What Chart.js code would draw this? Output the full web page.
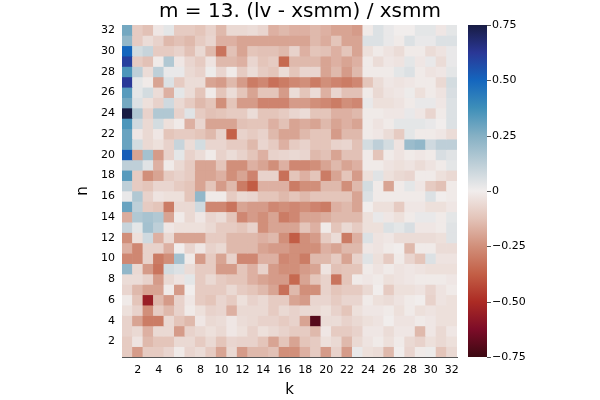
<!DOCTYPE html>
<html>
<head>
<meta charset="utf-8">
<script src="https://cdn.jsdelivr.net/npm/chart.js@4.4.0/dist/chart.umd.min.js"></script>
<style>
  html, body { margin: 0; padding: 0; background: #fff; }
</style>
</head>
<body>
<canvas id="heat" width="600" height="400"></canvas>
<script>
// k categories (columns)
const kLabels = ['1','2','3','4','5','6','7','8','9','10','11','12','13','14','15','16',
                 '17','18','19','20','21','22','23','24','25','26','27','28','29','30','31','32'];
// n values (rows) from top to bottom
const nRows = [32,31,30,29,28,27,26,25,24,23,22,21,20,19,18,17,16,15,14,13,12,11,10,9,8,7,6,5,4,3,2,1];
const nTicks = [2,4,6,8,10,12,14,16,18,20,22,24,26,28,30,32];
const cbTicks = [-0.75,-0.5,-0.25,0,0.25,0.5,0.75];

// (lv - xsmm) / xsmm, one line per n (top row n = 32 first), k = 1..32
const ratio = [
  [0.28,-0.10,-0.13,-0.02,0.03,-0.10,-0.10,-0.12,-0.08,-0.15,-0.06,-0.06,-0.05,-0.07,-0.17,-0.15,-0.17,-0.17,-0.15,-0.17,-0.20,-0.20,-0.22,-0.01,0.05,0.02,0.00,0.00,0.03,0.03,-0.02,0.03],
  [0.22,-0.10,-0.05,-0.08,-0.15,-0.13,-0.15,-0.10,-0.07,-0.17,-0.17,-0.20,-0.20,-0.20,-0.20,-0.20,-0.20,-0.20,-0.15,-0.18,-0.12,-0.20,-0.20,0.05,0.05,0.02,-0.01,0.05,0.02,0.02,0.05,0.05],
  [0.50,0.07,0.10,-0.10,-0.10,-0.08,-0.13,-0.06,-0.15,-0.32,-0.13,-0.20,-0.12,-0.13,-0.13,-0.15,-0.08,-0.17,-0.12,-0.13,-0.17,-0.12,-0.20,-0.04,-0.01,-0.03,-0.05,-0.01,-0.01,-0.05,-0.03,0.02],
  [0.60,-0.10,-0.13,-0.01,0.15,-0.02,-0.07,-0.10,-0.03,-0.15,-0.15,-0.17,-0.07,-0.12,-0.10,-0.35,-0.15,-0.15,-0.15,-0.20,-0.17,-0.20,-0.17,-0.01,-0.05,-0.02,-0.03,0.03,-0.02,0.02,-0.05,0.02],
  [0.35,0.12,-0.05,0.12,0.02,0.02,-0.06,-0.08,0.01,-0.07,-0.01,-0.10,-0.05,-0.10,-0.12,-0.05,-0.12,-0.07,-0.07,-0.20,-0.15,-0.22,-0.15,-0.01,-0.01,-0.01,0.03,0.05,-0.01,-0.03,-0.02,0.03],
  [0.62,0.03,-0.01,-0.20,0.05,-0.10,-0.05,-0.05,-0.20,-0.22,-0.15,-0.22,-0.30,-0.27,-0.33,-0.30,-0.27,-0.25,-0.30,-0.25,-0.28,-0.30,-0.27,-0.12,-0.05,-0.02,-0.03,-0.02,-0.01,-0.01,-0.06,0.07],
  [0.33,0.03,0.07,-0.05,-0.17,0.03,-0.05,-0.12,-0.01,-0.12,-0.05,-0.12,-0.20,-0.12,-0.12,-0.22,-0.05,-0.12,-0.05,-0.17,-0.07,-0.13,-0.13,-0.01,-0.06,-0.03,-0.02,0.01,-0.04,-0.01,-0.03,0.06],
  [0.28,0.05,-0.04,-0.08,0.08,-0.06,-0.10,-0.15,-0.12,-0.25,-0.12,-0.22,-0.22,-0.28,-0.28,-0.28,-0.22,-0.22,-0.25,-0.27,-0.30,-0.25,-0.27,0.02,-0.04,-0.04,-0.03,-0.01,0.02,0.02,-0.02,0.05],
  [0.75,0.15,-0.08,0.15,0.15,-0.08,0.04,-0.10,-0.13,-0.12,-0.10,-0.10,-0.05,-0.12,-0.12,-0.10,-0.07,-0.05,-0.12,-0.12,-0.17,-0.17,-0.15,-0.01,-0.01,-0.02,-0.02,0.02,-0.02,-0.07,-0.01,0.05],
  [0.35,0.08,-0.06,0.07,-0.04,-0.01,-0.17,-0.07,-0.20,-0.20,-0.20,-0.13,-0.12,-0.12,-0.17,-0.13,-0.20,-0.18,-0.20,-0.15,-0.20,-0.17,-0.20,-0.01,-0.03,-0.01,0.03,0.03,0.03,0.02,0.00,0.05],
  [0.30,-0.02,-0.06,-0.02,-0.12,-0.10,-0.10,-0.12,-0.15,-0.08,-0.37,-0.08,-0.10,-0.08,-0.15,-0.20,-0.20,-0.15,-0.12,-0.12,-0.22,-0.15,-0.15,-0.01,-0.02,-0.05,-0.10,0.03,-0.01,-0.01,-0.02,-0.05],
  [0.30,0.07,-0.06,-0.04,-0.08,0.10,-0.05,0.07,-0.07,-0.07,-0.10,-0.10,-0.15,-0.07,-0.10,-0.17,-0.10,-0.08,-0.12,-0.12,-0.08,-0.07,-0.13,0.07,0.12,0.07,-0.03,0.20,0.22,0.08,0.12,0.12],
  [0.52,-0.20,0.18,-0.22,-0.08,0.03,-0.08,-0.05,-0.01,-0.08,-0.05,-0.08,-0.12,-0.17,-0.08,-0.07,-0.06,-0.07,-0.15,-0.13,-0.20,-0.13,-0.13,-0.01,-0.12,-0.01,-0.03,-0.01,-0.02,-0.01,0.06,0.04],
  [0.12,0.12,0.04,-0.17,-0.01,-0.06,-0.10,-0.20,-0.20,-0.12,-0.25,-0.25,-0.17,-0.20,-0.25,-0.17,-0.27,-0.27,-0.25,-0.20,-0.15,-0.20,-0.17,-0.01,-0.01,-0.03,-0.04,-0.03,-0.05,-0.03,-0.01,0.03],
  [0.33,-0.10,-0.25,-0.20,-0.10,-0.08,-0.10,-0.20,-0.20,-0.17,-0.25,-0.20,-0.28,-0.08,-0.08,-0.33,-0.12,-0.17,-0.12,-0.30,-0.20,-0.12,-0.22,-0.04,0.04,-0.04,-0.06,-0.07,-0.01,-0.01,-0.04,-0.06],
  [0.12,-0.10,-0.12,-0.07,-0.07,-0.10,-0.12,-0.20,-0.12,-0.22,-0.15,-0.30,-0.38,-0.17,-0.17,-0.17,-0.30,-0.25,-0.25,-0.15,-0.15,-0.25,-0.15,0.07,-0.01,-0.20,-0.01,0.03,-0.02,-0.10,-0.13,-0.01],
  [0.02,0.15,-0.08,-0.03,-0.04,-0.04,-0.12,0.22,-0.01,-0.01,-0.10,-0.06,-0.07,-0.12,-0.12,-0.15,-0.12,-0.15,-0.12,-0.12,-0.12,-0.12,-0.20,0.05,-0.01,-0.01,-0.01,-0.01,-0.01,0.05,0.00,-0.01],
  [0.30,0.12,-0.10,-0.12,-0.30,-0.06,-0.06,0.08,-0.27,-0.27,-0.32,-0.20,-0.22,-0.22,-0.27,-0.25,-0.27,-0.25,-0.28,-0.30,-0.17,-0.15,-0.20,0.00,-0.04,-0.04,-0.10,-0.02,-0.02,-0.04,-0.04,-0.02],
  [-0.18,0.15,0.17,0.15,-0.20,-0.01,-0.06,-0.02,-0.07,-0.05,-0.12,-0.27,-0.22,-0.25,-0.20,-0.30,-0.27,-0.20,-0.20,-0.18,-0.15,-0.15,-0.15,-0.04,0.02,-0.02,-0.04,-0.01,0.02,0.02,-0.01,0.03],
  [0.10,0.03,0.18,0.12,-0.02,-0.04,-0.04,-0.04,-0.06,-0.10,-0.10,-0.12,-0.08,-0.25,-0.20,-0.20,-0.20,-0.12,-0.17,-0.01,-0.12,-0.06,-0.10,-0.04,-0.04,0.05,0.03,0.06,-0.02,-0.02,-0.01,0.04],
  [-0.25,-0.04,0.08,-0.17,-0.06,-0.20,-0.20,-0.20,-0.10,-0.10,-0.15,-0.15,-0.15,-0.17,-0.15,-0.25,-0.38,-0.25,-0.22,-0.10,-0.05,-0.30,-0.17,0.05,-0.03,-0.02,-0.05,-0.05,-0.05,-0.05,-0.04,0.04],
  [-0.17,-0.27,-0.08,-0.08,-0.17,0.00,-0.07,-0.02,-0.08,-0.06,-0.15,-0.15,-0.15,-0.20,-0.22,-0.22,-0.25,-0.25,-0.25,-0.17,-0.20,-0.15,-0.15,-0.02,-0.03,-0.01,0.00,-0.15,-0.01,-0.01,-0.05,-0.05],
  [-0.27,-0.27,-0.08,-0.30,-0.25,0.18,-0.01,-0.22,-0.10,-0.20,-0.08,-0.27,-0.27,-0.17,-0.17,-0.27,-0.25,-0.30,-0.15,-0.15,-0.10,-0.20,-0.08,0.04,-0.04,-0.10,-0.01,-0.07,-0.12,0.05,-0.03,-0.03],
  [0.22,-0.06,-0.22,-0.32,0.07,0.05,-0.05,-0.10,-0.10,-0.22,-0.22,-0.12,-0.17,-0.08,-0.22,-0.25,-0.25,-0.22,-0.20,-0.03,-0.13,-0.12,-0.12,-0.01,-0.03,-0.01,-0.03,-0.02,-0.03,-0.04,-0.04,-0.04],
  [-0.05,-0.05,-0.08,-0.22,-0.06,-0.03,0.03,-0.10,-0.06,-0.10,-0.12,-0.12,-0.17,-0.20,-0.22,-0.22,-0.35,-0.20,-0.12,-0.08,-0.32,-0.12,-0.01,-0.02,-0.01,-0.04,-0.03,-0.02,-0.01,-0.01,-0.01,-0.02],
  [-0.07,-0.15,-0.20,-0.20,-0.01,-0.22,0.00,-0.10,-0.10,-0.10,-0.06,-0.10,-0.12,-0.15,-0.20,-0.33,-0.15,-0.25,-0.25,-0.08,-0.12,-0.10,-0.10,-0.06,0.00,-0.10,-0.04,-0.04,-0.03,-0.07,-0.03,-0.01],
  [-0.01,-0.12,-0.55,-0.15,-0.22,-0.08,-0.02,-0.10,-0.12,-0.07,-0.10,-0.04,-0.08,-0.06,-0.10,-0.10,-0.20,-0.22,-0.07,-0.07,-0.10,-0.07,-0.07,-0.01,-0.04,-0.05,-0.03,-0.01,0.00,-0.08,-0.03,-0.04],
  [-0.04,-0.08,-0.25,-0.10,-0.15,-0.08,-0.01,-0.04,-0.08,-0.07,-0.17,-0.06,-0.06,-0.06,-0.10,-0.06,-0.08,-0.06,-0.06,-0.04,-0.08,-0.12,-0.04,-0.02,-0.02,-0.01,-0.04,-0.01,-0.04,-0.03,-0.04,-0.04],
  [-0.08,-0.20,-0.30,-0.30,-0.06,-0.12,-0.15,-0.02,-0.06,-0.05,-0.02,-0.05,-0.06,-0.08,-0.08,-0.10,-0.08,-0.20,-0.70,-0.05,-0.05,-0.08,-0.06,-0.04,-0.03,0.00,-0.03,-0.03,-0.01,-0.02,-0.04,-0.04],
  [-0.08,-0.06,-0.17,-0.06,-0.06,-0.22,-0.08,-0.06,-0.04,-0.06,-0.02,-0.04,-0.08,-0.04,-0.06,-0.08,-0.10,-0.10,-0.15,-0.02,-0.10,-0.10,-0.08,-0.02,-0.02,-0.05,-0.02,-0.02,-0.15,-0.02,-0.06,-0.02],
  [-0.10,-0.03,-0.15,-0.12,-0.12,-0.06,-0.06,-0.10,-0.06,-0.12,-0.07,-0.08,-0.08,-0.12,-0.20,-0.12,-0.20,-0.12,-0.10,-0.04,-0.06,-0.15,-0.06,-0.03,-0.01,-0.04,-0.01,-0.06,-0.08,-0.04,-0.06,-0.04],
  [-0.10,-0.22,-0.10,-0.10,-0.07,-0.01,-0.07,-0.05,-0.10,-0.20,-0.06,-0.22,-0.15,-0.15,-0.13,-0.25,-0.25,-0.17,-0.10,-0.22,-0.08,-0.22,0.02,-0.04,-0.05,-0.15,0.00,-0.07,-0.01,0.01,-0.12,-0.06]
];

// diverging "balance" colour map, -0.75 .. 0.75
const balanceStops = [
  [-0.75, [60, 9, 18]],
  [-0.625, [125, 12, 40]],
  [-0.5, [172, 43, 36]],
  [-0.375, [195, 95, 70]],
  [-0.25, [209, 143, 122]],
  [-0.125, [227, 195, 184]],
  [0, [241, 237, 236]],
  [0.125, [188, 206, 215]],
  [0.25, [133, 176, 196]],
  [0.375, [62, 143, 185]],
  [0.5, [20, 102, 190]],
  [0.625, [42, 55, 150]],
  [0.75, [24, 28, 67]]
];

function balance(v) {
  v = Math.max(-0.75, Math.min(0.75, v));
  for (let i = 1; i < balanceStops.length; i++) {
    const [v1, c1] = balanceStops[i];
    if (v <= v1) {
      const [v0, c0] = balanceStops[i - 1];
      const t = (v - v0) / (v1 - v0);
      const c = c0.map((a, j) => Math.round(a + (c1[j] - a) * t));
      return 'rgb(' + c.join(',') + ')';
    }
  }
  return 'rgb(24,28,67)';
}

const fontFam = "'DejaVu Sans', sans-serif";

// every row is a dataset of floating bars, one per k
const datasets = ratio.map((row, i) => {
  const n = nRows[i];
  return {
    label: 'n = ' + n,
    data: row.map(() => [n - 0.5, n + 0.5]),
    backgroundColor: row.map(balance),
    grouped: false,
    barPercentage: 1,
    categoryPercentage: 1,
    borderWidth: 0,
    borderSkipped: false
  };
});

// draws the colour bar beside the plot, using the 'cb' scale
const colorbarPlugin = {
  id: 'colorbar',
  afterDraw(chart) {
    const cb = chart.scales.cb;
    const ctx = chart.ctx;
    const x0 = chart.chartArea.right + 11;
    const w = 19;
    const top = cb.getPixelForValue(0.75);
    const bot = cb.getPixelForValue(-0.75);
    const g = ctx.createLinearGradient(0, bot, 0, top);
    balanceStops.forEach(([v, c]) => g.addColorStop((v + 0.75) / 1.5, 'rgb(' + c.join(',') + ')'));
    ctx.save();
    ctx.fillStyle = g;
    ctx.fillRect(x0, top, w, bot - top);
    ctx.strokeStyle = '#555';
    ctx.lineWidth = 1;
    cbTicks.forEach(v => {
      const y = Math.round(cb.getPixelForValue(v)) + 0.5;
      ctx.beginPath();
      ctx.moveTo(x0 + w, y);
      ctx.lineTo(x0 + w + 4, y);
      ctx.stroke();
    });
    ctx.restore();
  }
};

new Chart(document.getElementById('heat').getContext('2d'), {
  type: 'bar',
  data: { labels: kLabels, datasets: datasets },
  options: {
    responsive: false,
    animation: false,
    layout: { padding: 0 },
    plugins: {
      legend: { display: false },
      tooltip: { enabled: false },
      title: {
        display: true,
        text: 'm = 13. (lv - xsmm) / xsmm',
        color: '#000',
        font: { family: fontFam, size: 20, weight: 'normal' },
        padding: { top: 0, bottom: 1 }
      }
    },
    scales: {
      x: {
        type: 'category',
        offset: true,
        grid: { display: false, drawTicks: false },
        border: { display: true, color: '#555' },
        ticks: {
          autoSkip: false,
          maxRotation: 0,
          padding: 7,
          color: '#000',
          font: { family: fontFam, size: 11 },
          callback: function(val, idx) { return idx % 2 === 1 ? this.getLabelForValue(val) : ''; }
        },
        title: { display: true, text: 'k', color: '#000', font: { family: fontFam, size: 15 }, padding: { top: 1, bottom: 1 } },
        afterFit: s => { s.height = 43; }
      },
      y: {
        type: 'linear',
        min: 0.5,
        max: 32.5,
        afterBuildTicks: s => { s.ticks = nTicks.map(v => ({ value: v })); },
        grid: { display: false, drawTicks: false },
        border: { display: true, color: '#555' },
        ticks: { padding: 7, color: '#000', font: { family: fontFam, size: 11 } },
        title: { display: true, text: 'n', color: '#000', font: { family: fontFam, size: 15 }, padding: { top: 74, bottom: 74 } },
        afterFit: s => { s.width = 122; }
      },
      cb: {
        type: 'linear',
        position: 'right',
        min: -0.75,
        max: 0.75,
        afterBuildTicks: s => { s.ticks = cbTicks.map(v => ({ value: v })); },
        grid: { display: false, drawTicks: true, tickLength: 33 },
        border: { display: false },
        ticks: {
          padding: 2,
          color: '#000',
          font: { family: fontFam, size: 11 },
          callback: v => v === 0 ? '0' : (v < 0 ? '\u2212' : '') + Math.abs(v).toFixed(2)
        },
        afterFit: s => { s.width = 143; }
      }
    }
  },
  plugins: [colorbarPlugin]
});
</script>
</body>
</html>
